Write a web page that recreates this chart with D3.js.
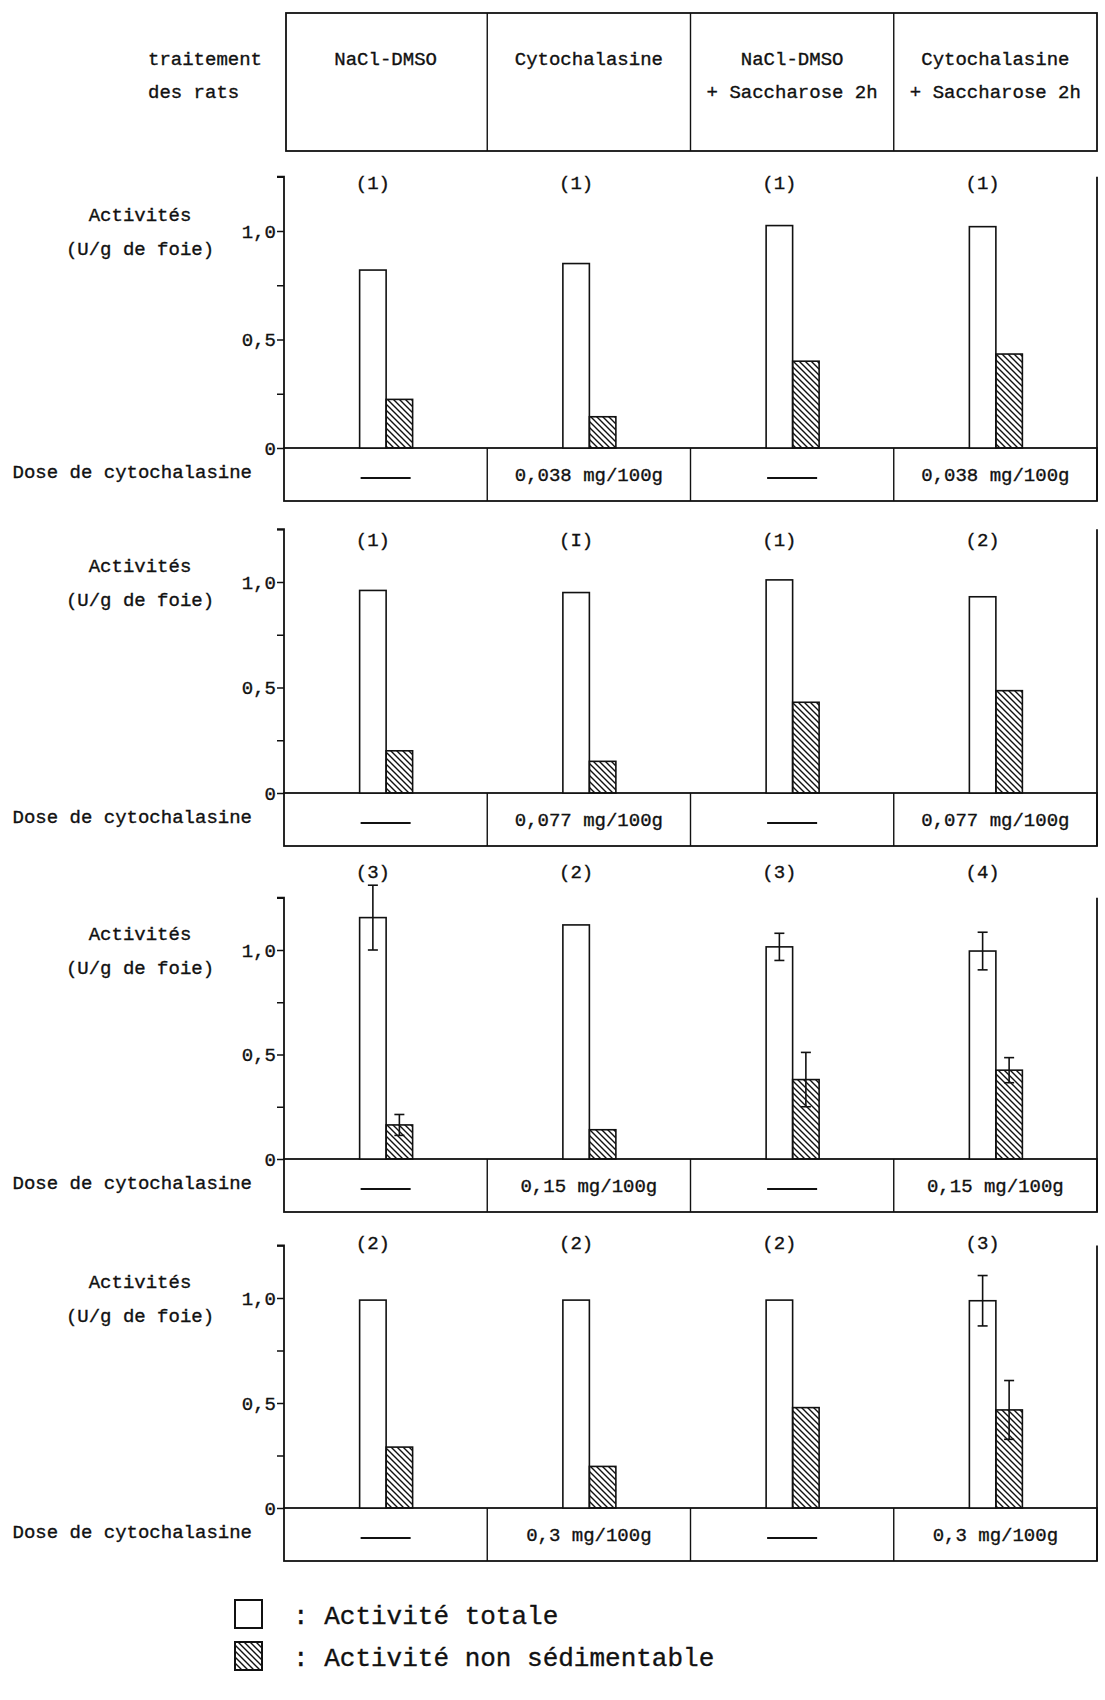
<!DOCTYPE html>
<meta charset="utf-8">
<script src="https://d3js.org/d3.v7.min.js"></script>
<style>
  body { margin: 0; background: #fff; }
  text { font-family: "Liberation Mono", "DejaVu Sans Mono", monospace; fill: #111; stroke: #111; stroke-width: 0.35px; }
</style>
<body>
<div id="chart"></div>
<script>

// treatments (column headers, two lines each)
var headerLine1 = ["NaCl-DMSO", "Cytochalasine", "NaCl-DMSO", "Cytochalasine"];
var headerLine2 = ["", "", "+ Saccharose 2h", "+ Saccharose 2h"];
var columns = ["c1", "c2", "c3", "c4"];
var series = ["totale", "nonsed"];

// cytochalasin dose for each panel (cytochalasin columns only)
var doses = ["0,038 mg/100g", "0,077 mg/100g", "0,15 mg/100g", "0,3 mg/100g"];
var hasDose = [false, true, false, true];

// activities (U/g de foie), one row per panel
var totalActivity = [
  [0.82, 0.85, 1.025, 1.02],
  [0.96, 0.95, 1.01, 0.93],
  [1.155, 1.12, 1.015, 0.995],
  [0.99, 0.99, 0.99, 0.987]
];
var totalErr = [
  [0, 0, 0, 0],
  [0, 0, 0, 0],
  [0.155, 0, 0.065, 0.09],
  [0, 0, 0, 0.12]
];
var nonSedActivity = [
  [0.224, 0.144, 0.40, 0.433],
  [0.20, 0.15, 0.43, 0.485],
  [0.163, 0.14, 0.38, 0.425],
  [0.29, 0.198, 0.478, 0.467]
];
var nonSedErr = [
  [0, 0, 0, 0],
  [0, 0, 0, 0],
  [0.05, 0, 0.13, 0.06],
  [0, 0, 0, 0.14]
];
// number of rats
var counts = [
  ["(1)", "(1)", "(1)", "(1)"],
  ["(1)", "(I)", "(1)", "(2)"],
  ["(3)", "(2)", "(3)", "(4)"],
  ["(2)", "(2)", "(2)", "(3)"]
];
var yTicks = [0, 0.25, 0.5, 0.75, 1.0, 1.25];
var yLabels = { "0": "0", "0.5": "0,5", "1": "1,0" };

// layout of each panel: pixel position of 0 and of 1,0 ; level of count labels
var panels = [
  { zero: 448, one: 231, countY: 183 },
  { zero: 793, one: 582, countY: 540 },
  { zero: 1159, one: 950, countY: 872 },
  { zero: 1508, one: 1298, countY: 1243 }
];

var W = 1105, H = 1700;
var left = 284, right = 1097;
var fs = 19;

var svg = d3.select("#chart").append("svg")
  .attr("width", W).attr("height", H);

// hatch pattern
svg.append("defs").append("pattern")
  .attr("id", "hatch")
  .attr("patternUnits", "userSpaceOnUse")
  .attr("width", 6).attr("height", 6)
  .append("path")
  .attr("d", "M0,0 L6,6 M-1,5 L1,7 M5,-1 L7,1")
  .attr("stroke", "#111").attr("stroke-width", 1.4);

var x = d3.scaleBand().domain(columns).range([left, right]);
var xs = d3.scaleBand().domain(series).range([-26, 27]);

// header table
var head = svg.append("g");
head.append("rect")
  .attr("x", left + 2).attr("y", 13)
  .attr("width", right - left - 2).attr("height", 138)
  .attr("fill", "none").attr("stroke", "#111").attr("stroke-width", 1.8);
head.selectAll(".div")
  .data(columns.slice(1))
  .enter().append("line")
  .attr("x1", function(d) { return x(d); })
  .attr("x2", function(d) { return x(d); })
  .attr("y1", 13).attr("y2", 151)
  .attr("stroke", "#111").attr("stroke-width", 1.4);
head.selectAll(".h1")
  .data(columns)
  .enter().append("text")
  .attr("x", function(d) { return x(d) + x.bandwidth() / 2; })
  .attr("y", 65)
  .attr("text-anchor", "middle").style("font-size", fs + "px")
  .text(function(d, i) { return headerLine1[i]; });
head.selectAll(".h2")
  .data(columns)
  .enter().append("text")
  .attr("x", function(d) { return x(d) + x.bandwidth() / 2; })
  .attr("y", 98)
  .attr("text-anchor", "middle").style("font-size", fs + "px")
  .text(function(d, i) { return headerLine2[i]; });
head.append("text").attr("x", 148).attr("y", 65)
  .style("font-size", fs + "px").text("traitement");
head.append("text").attr("x", 148).attr("y", 98)
  .style("font-size", fs + "px").text("des rats");

// panels
panels.forEach(function(p, k) {
  var y = d3.scaleLinear().domain([0, 1]).range([p.zero, p.one]);
  var g = svg.append("g");
  var top = y(1.25);
  var boxBottom = p.zero + 53;

  // y axis
  var ax = g.append("g")
    .attr("transform", "translate(" + left + ",0)")
    .call(d3.axisLeft(y)
      .tickValues(yTicks)
      .tickSize(7)
      .tickFormat(function(d) { return yLabels[String(d)] || ""; }));
  ax.select(".domain").attr("stroke", "#111").attr("stroke-width", 1.8)
    .attr("d", "M-7," + top + "H0V" + p.zero);
  ax.selectAll(".tick line").attr("stroke", "#111").attr("stroke-width", 1.5);
  ax.selectAll(".tick text")
    .style("font-family", '"Liberation Mono", monospace')
    .style("font-size", fs + "px").attr("fill", "#111").attr("x", -8);

  // right border
  g.append("line")
    .attr("x1", right).attr("x2", right)
    .attr("y1", top).attr("y2", boxBottom)
    .attr("stroke", "#111").attr("stroke-width", 1.8);

  // dose box
  g.append("rect")
    .attr("x", left).attr("y", p.zero)
    .attr("width", right - left).attr("height", boxBottom - p.zero)
    .attr("fill", "none").attr("stroke", "#111").attr("stroke-width", 1.8);
  g.selectAll(".dv")
    .data(columns.slice(1))
    .enter().append("line")
    .attr("x1", function(d) { return x(d); })
    .attr("x2", function(d) { return x(d); })
    .attr("y1", p.zero).attr("y2", boxBottom)
    .attr("stroke", "#111").attr("stroke-width", 1.4);
  columns.forEach(function(c, i) {
    var cx = x(c) + x.bandwidth() / 2;
    if (hasDose[i]) {
      g.append("text").attr("x", cx).attr("y", p.zero + 33)
        .attr("text-anchor", "middle").style("font-size", fs + "px")
        .text(doses[k]);
    } else {
      g.append("line")
        .attr("x1", cx - 25).attr("x2", cx + 25)
        .attr("y1", p.zero + 30).attr("y2", p.zero + 30)
        .attr("stroke", "#111").attr("stroke-width", 1.8);
    }
  });

  g.append("text").attr("x", 252).attr("y", p.zero + 30)
    .attr("text-anchor", "end").style("font-size", fs + "px")
    .text("Dose de cytochalasine");
  g.append("text").attr("x", 140).attr("y", p.one - 10)
    .attr("text-anchor", "middle").style("font-size", fs + "px")
    .text("Activités");
  g.append("text").attr("x", 140).attr("y", p.one + 24)
    .attr("text-anchor", "middle").style("font-size", fs + "px")
    .text("(U/g de foie)");

  // bars
  var rows = columns.map(function(c, i) {
    return [
      { col: c, s: "totale", v: totalActivity[k][i], e: totalErr[k][i] },
      { col: c, s: "nonsed", v: nonSedActivity[k][i], e: nonSedErr[k][i] }
    ];
  });
  var flat = [].concat.apply([], rows);
  g.selectAll(".bar")
    .data(flat)
    .enter().append("rect")
    .attr("x", function(d) { return x(d.col) + x.bandwidth() / 2 + xs(d.s); })
    .attr("width", xs.bandwidth())
    .attr("y", function(d) { return y(d.v); })
    .attr("height", function(d) { return y(0) - y(d.v); })
    .attr("fill", function(d) { return d.s === "totale" ? "#fff" : "url(#hatch)"; })
    .attr("stroke", "#111").attr("stroke-width", 1.6);

  // error bars
  var errs = flat.filter(function(d) { return d.e > 0; });
  var eg = g.selectAll(".err").data(errs).enter().append("g")
    .attr("transform", function(d) {
      return "translate(" + (x(d.col) + x.bandwidth() / 2 + xs(d.s) + xs.bandwidth() / 2) + ",0)";
    });
  eg.append("line")
    .attr("y1", function(d) { return y(d.v - d.e); })
    .attr("y2", function(d) { return y(d.v + d.e); })
    .attr("stroke", "#111").attr("stroke-width", 1.6);
  eg.append("line").attr("x1", -5).attr("x2", 5)
    .attr("y1", function(d) { return y(d.v + d.e); })
    .attr("y2", function(d) { return y(d.v + d.e); })
    .attr("stroke", "#111").attr("stroke-width", 1.6);
  eg.append("line").attr("x1", -5).attr("x2", 5)
    .attr("y1", function(d) { return y(d.v - d.e); })
    .attr("y2", function(d) { return y(d.v - d.e); })
    .attr("stroke", "#111").attr("stroke-width", 1.6);

  // counts
  g.selectAll(".cnt")
    .data(columns)
    .enter().append("text")
    .attr("x", function(d) { return x(d) + x.bandwidth() / 2 + xs("totale") + xs.bandwidth() / 2; })
    .attr("y", p.countY + 6)
    .attr("text-anchor", "middle").style("font-size", fs + "px")
    .text(function(d, i) { return counts[k][i]; });
});

// legend
var lg = svg.append("g");
lg.append("rect").attr("x", 235).attr("y", 1600).attr("width", 27).attr("height", 28)
  .attr("fill", "#fff").attr("stroke", "#111").attr("stroke-width", 2);
lg.append("rect").attr("x", 235).attr("y", 1642).attr("width", 27).attr("height", 28)
  .attr("fill", "url(#hatch)").attr("stroke", "#111").attr("stroke-width", 2);
lg.append("text").attr("x", 293).attr("y", 1624).style("font-size", "26px")
  .text(": Activité totale");
lg.append("text").attr("x", 293).attr("y", 1666).style("font-size", "26px")
  .text(": Activité non sédimentable");
</script>
</body>
